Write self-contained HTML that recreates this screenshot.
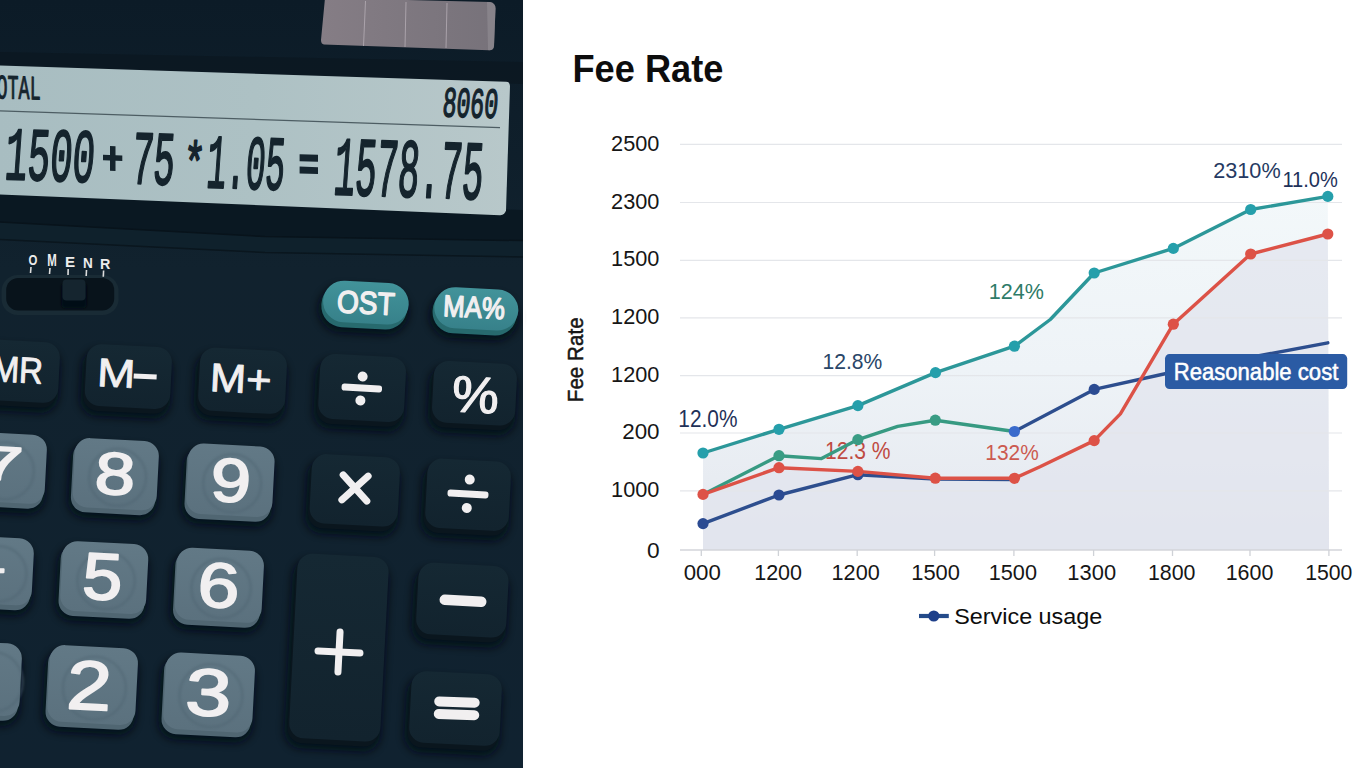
<!DOCTYPE html>
<html><head><meta charset="utf-8">
<style>
html,body{margin:0;padding:0;width:1365px;height:768px;overflow:hidden;background:#fff;}
svg{display:block;}
svg{font-family:"Liberation Sans",sans-serif;}
</style></head>
<body>
<svg width="1365" height="768" viewBox="0 0 1365 768">
<defs>
  <linearGradient id="areaG" x1="0" y1="190" x2="0" y2="550" gradientUnits="userSpaceOnUse">
    <stop offset="0" stop-color="#f3f8fa"/>
    <stop offset="0.5" stop-color="#eef3f7"/>
    <stop offset="0.8" stop-color="#e8ecf2"/>
    <stop offset="1" stop-color="#e2e5ed"/>
  </linearGradient>
</defs>

<g id="chart">
  <text transform="translate(572.47 81.82) scale(0.3621 0.3800)" x="0" y="0" font-size="100" font-weight="bold" style="font-family:'Liberation Sans'" fill="#0d0d0d">Fee Rate</text>
  <polygon fill="url(#areaG)" points="703,453 779,429.3 857.9,405.6 935.5,372.6 1014.4,346.2 1050.3,319.5 1094.2,273 1173.3,248.4 1250.7,209.5 1327.8,196.4 1329,550 703,550"/>
  <polygon fill="#e1e4ed" opacity="0.75" points="1014.4,478.3 1040,466.8 1094.2,440.6 1120.4,413.9 1173.3,324.2 1250.7,254 1327.8,234 1329,550 703,550 703,494.4 779,467.7 857.9,471.4 935.3,478.2"/>
  <g stroke="#e4e6ea" stroke-width="1.2"><line x1="680" y1="144.4" x2="1342" y2="144.4"/><line x1="680" y1="202.5" x2="1342" y2="202.5"/><line x1="680" y1="260.4" x2="1342" y2="260.4"/><line x1="680" y1="317.9" x2="1342" y2="317.9"/><line x1="680" y1="375.6" x2="1342" y2="375.6"/><line x1="680" y1="433" x2="1342" y2="433"/><line x1="680" y1="490.8" x2="1342" y2="490.8"/></g>
  <line x1="680" y1="550" x2="1342" y2="550" stroke="#d3d5da" stroke-width="1.5"/>
  <g stroke="#cfd2d7" stroke-width="1.3"><line x1="701.3" y1="550" x2="701.3" y2="556"/><line x1="778.4" y1="550" x2="778.4" y2="556"/><line x1="857.2" y1="550" x2="857.2" y2="556"/><line x1="934.6" y1="550" x2="934.6" y2="556"/><line x1="1013.9" y1="550" x2="1013.9" y2="556"/><line x1="1093.6" y1="550" x2="1093.6" y2="556"/><line x1="1172.5" y1="550" x2="1172.5" y2="556"/><line x1="1250" y1="550" x2="1250" y2="556"/><line x1="1328.9" y1="550" x2="1328.9" y2="556"/></g>
  <text transform="translate(611.11 151.47) scale(0.2173 0.2282)" x="0" y="0" font-size="100" font-weight="normal" style="font-family:'Liberation Sans'" fill="#161616">2500</text><text transform="translate(611.11 208.87) scale(0.2173 0.2282)" x="0" y="0" font-size="100" font-weight="normal" style="font-family:'Liberation Sans'" fill="#161616">2300</text><text transform="translate(611.06 266.27) scale(0.2175 0.2282)" x="0" y="0" font-size="100" font-weight="normal" style="font-family:'Liberation Sans'" fill="#161616">1500</text><text transform="translate(611.06 324.17) scale(0.2175 0.2282)" x="0" y="0" font-size="100" font-weight="normal" style="font-family:'Liberation Sans'" fill="#161616">1200</text><text transform="translate(611.06 381.57) scale(0.2175 0.2282)" x="0" y="0" font-size="100" font-weight="normal" style="font-family:'Liberation Sans'" fill="#161616">1200</text><text transform="translate(622.18 439.27) scale(0.2241 0.2282)" x="0" y="0" font-size="100" font-weight="normal" style="font-family:'Liberation Sans'" fill="#161616">200</text><text transform="translate(611.06 496.97) scale(0.2175 0.2282)" x="0" y="0" font-size="100" font-weight="normal" style="font-family:'Liberation Sans'" fill="#161616">1000</text><text transform="translate(646.89 557.97) scale(0.2271 0.2282)" x="0" y="0" font-size="100" font-weight="normal" style="font-family:'Liberation Sans'" fill="#161616">0</text>
  <g transform="rotate(-90 576 359.4)"><text transform="translate(533.20 366.73) scale(0.2063 0.2157)" x="0" y="0" font-size="100" font-weight="normal" style="font-family:'Liberation Sans'" fill="#161616" stroke="#161616" stroke-width="2.37" stroke-linejoin="round">Fee Rate</text></g>
  <text transform="translate(683.71 580.38) scale(0.2226 0.2155)" x="0" y="0" font-size="100" font-weight="normal" style="font-family:'Liberation Sans'" fill="#161616">000</text><text transform="translate(754.18 580.38) scale(0.2152 0.2155)" x="0" y="0" font-size="100" font-weight="normal" style="font-family:'Liberation Sans'" fill="#161616">1200</text><text transform="translate(831.57 580.38) scale(0.2166 0.2155)" x="0" y="0" font-size="100" font-weight="normal" style="font-family:'Liberation Sans'" fill="#161616">1200</text><text transform="translate(911.25 580.38) scale(0.2190 0.2155)" x="0" y="0" font-size="100" font-weight="normal" style="font-family:'Liberation Sans'" fill="#161616">1500</text><text transform="translate(988.77 580.38) scale(0.2166 0.2155)" x="0" y="0" font-size="100" font-weight="normal" style="font-family:'Liberation Sans'" fill="#161616">1500</text><text transform="translate(1067.35 580.38) scale(0.2190 0.2155)" x="0" y="0" font-size="100" font-weight="normal" style="font-family:'Liberation Sans'" fill="#161616">1300</text><text transform="translate(1147.89 580.38) scale(0.2137 0.2155)" x="0" y="0" font-size="100" font-weight="normal" style="font-family:'Liberation Sans'" fill="#161616">1800</text><text transform="translate(1225.69 580.38) scale(0.2142 0.2155)" x="0" y="0" font-size="100" font-weight="normal" style="font-family:'Liberation Sans'" fill="#161616">1600</text><text transform="translate(1305.20 580.38) scale(0.2123 0.2155)" x="0" y="0" font-size="100" font-weight="normal" style="font-family:'Liberation Sans'" fill="#161616">1500</text>
  <text transform="translate(825.01 459.06) scale(0.2107 0.2366)" x="0" y="0" font-size="100" font-weight="normal" style="font-family:'Liberation Sans'" fill="#bf4a42">12.3 %</text>
  <g fill="none" stroke-width="3.4" stroke-linejoin="round" stroke-linecap="round">
    <polyline stroke="#2d4e8e" points="703,523.6 779,495 857.9,474.7 935.3,479 1014.4,479.5"/>
    <polyline stroke="#2d4e8e" points="1014.4,431.5 1094.2,389.4 1173,372 1327.8,342.8"/>
    <polyline stroke="#379a82" points="703,494.4 779,455.7 821.5,458.6 857.9,439.6 897.7,426.4 935.3,420.2 1014.4,431.5"/>
    <polyline stroke="#dc5247" points="703,494.4 779,467.7 857.9,471.4 935.3,478.2 1014.4,478.3 1040,466.8 1094.2,440.6 1120.4,413.9 1173.3,324.2 1250.7,254 1327.8,234"/>
    <polyline stroke="#2c9799" points="703,453 779,429.3 857.9,405.6 935.5,372.6 1014.4,346.2 1050.3,319.5 1094.2,273 1173.3,248.4 1250.7,209.5 1327.8,196.4"/>
  </g>
  <circle cx="703" cy="523.6" r="5.6" fill="#2b4b92"/><circle cx="779" cy="495" r="5.6" fill="#2b4b92"/><circle cx="857.9" cy="474.7" r="5.6" fill="#2b4b92"/><circle cx="1094.2" cy="389.4" r="5.6" fill="#2b4b92"/>
  <circle cx="1014.4" cy="431.5" r="5.6" fill="#3a6bcc"/>
  <circle cx="779" cy="455.7" r="5.6" fill="#399c84"/><circle cx="857.9" cy="439.6" r="5.6" fill="#399c84"/><circle cx="935.3" cy="420.2" r="5.6" fill="#399c84"/>
  <circle cx="703" cy="494.4" r="5.6" fill="#dd5247"/><circle cx="779" cy="467.7" r="5.6" fill="#dd5247"/><circle cx="857.9" cy="471.4" r="5.6" fill="#dd5247"/><circle cx="935.3" cy="478.2" r="5.6" fill="#dd5247"/><circle cx="1014.4" cy="478.3" r="5.6" fill="#dd5247"/><circle cx="1094.2" cy="440.6" r="5.6" fill="#dd5247"/><circle cx="1173.3" cy="324.2" r="5.6" fill="#dd5247"/><circle cx="1250.7" cy="254" r="5.6" fill="#dd5247"/><circle cx="1327.8" cy="234" r="5.6" fill="#dd5247"/>
  <circle cx="703" cy="453" r="5.6" fill="#259fab"/><circle cx="779" cy="429.3" r="5.6" fill="#259fab"/><circle cx="857.9" cy="405.6" r="5.6" fill="#259fab"/><circle cx="935.5" cy="372.6" r="5.6" fill="#259fab"/><circle cx="1014.4" cy="346.2" r="5.6" fill="#259fab"/><circle cx="1094.2" cy="273" r="5.6" fill="#259fab"/><circle cx="1173.3" cy="248.4" r="5.6" fill="#259fab"/><circle cx="1250.7" cy="209.5" r="5.6" fill="#259fab"/><circle cx="1327.8" cy="196.4" r="5.6" fill="#259fab"/>
  <text transform="translate(678.33 427.06) scale(0.2088 0.2352)" x="0" y="0" font-size="100" font-weight="normal" style="font-family:'Liberation Sans'" fill="#1f3158">12.0%</text>
  <text transform="translate(822.51 369.48) scale(0.2110 0.2155)" x="0" y="0" font-size="100" font-weight="normal" style="font-family:'Liberation Sans'" fill="#2a4668">12.8%</text>
  <text transform="translate(988.68 298.78) scale(0.2156 0.2169)" x="0" y="0" font-size="100" font-weight="normal" style="font-family:'Liberation Sans'" fill="#2e7b68">124%</text>
  <text transform="translate(985.33 460.38) scale(0.2090 0.2197)" x="0" y="0" font-size="100" font-weight="normal" style="font-family:'Liberation Sans'" fill="#cc5a50">132%</text>
  <text transform="translate(1213.22 178.38) scale(0.2166 0.2239)" x="0" y="0" font-size="100" font-weight="normal" style="font-family:'Liberation Sans'" fill="#263a62">2310%</text>
  <text transform="translate(1282.39 187.18) scale(0.2008 0.2169)" x="0" y="0" font-size="100" font-weight="normal" style="font-family:'Liberation Sans'" fill="#1e3159">11.0%</text>
  <rect x="1165" y="354.1" width="182.2" height="34.9" rx="4.5" fill="#2b5ba4"/>
  <text transform="translate(1173.68 379.72) scale(0.2211 0.2342)" x="0" y="0" font-size="100" font-weight="normal" style="font-family:'Liberation Sans'" fill="#ffffff" stroke="#ffffff" stroke-width="2.20" stroke-linejoin="round">Reasonable cost</text>
  <line x1="919" y1="616" x2="948.8" y2="616" stroke="#244b8a" stroke-width="4.2"/>
  <circle cx="933.8" cy="616" r="5.6" fill="#1d3f8a"/>
  <text transform="translate(954.23 623.73) scale(0.2337 0.2226)" x="0" y="0" font-size="100" font-weight="normal" style="font-family:'Liberation Sans'" fill="#0d0d0d">Service usage</text>
</g>


<!-- ============ CALCULATOR ============ -->
<g id="calc">
  <defs>
    <linearGradient id="bodyG" x1="0" y1="0" x2="0" y2="768" gradientUnits="userSpaceOnUse">
      <stop offset="0" stop-color="#0c1b27"/>
      <stop offset="0.35" stop-color="#11222e"/>
      <stop offset="1" stop-color="#102230"/>
    </linearGradient>
    <linearGradient id="solarG" x1="322" y1="0" x2="496" y2="0" gradientUnits="userSpaceOnUse">
      <stop offset="0" stop-color="#857d85"/>
      <stop offset="1" stop-color="#77727a"/>
    </linearGradient>
    <linearGradient id="lcdG" x1="0" y1="0" x2="510" y2="0" gradientUnits="userSpaceOnUse">
      <stop offset="0" stop-color="#a8bdc1"/>
      <stop offset="0.5" stop-color="#adc1c4"/>
      <stop offset="1" stop-color="#b8c8ca"/>
    </linearGradient>
    <linearGradient id="gDark" x1="0" y1="0" x2="0" y2="1"><stop offset="0" stop-color="#152833"/><stop offset="1" stop-color="#12232e"/></linearGradient>
    <linearGradient id="gGrey" x1="0" y1="0" x2="0" y2="1"><stop offset="0" stop-color="#627986"/><stop offset="1" stop-color="#5b717e"/></linearGradient>
    <linearGradient id="gTeal" x1="0" y1="0" x2="0" y2="1"><stop offset="0" stop-color="#42939a"/><stop offset="1" stop-color="#37818a"/></linearGradient>
    <filter id="blur1" x="-20%" y="-20%" width="140%" height="140%"><feGaussianBlur stdDeviation="1.2"/></filter>
    <filter id="blur3" x="-30%" y="-30%" width="160%" height="160%"><feGaussianBlur stdDeviation="4"/></filter>
  </defs>
  <rect x="0" y="0" width="523" height="768" fill="url(#bodyG)"/>
  <!-- solar panel -->
  <path d="M325,-2 L490,2 Q495.5,3 495.5,8.5 L494,46 Q493.5,50.5 489,50.3 L324,44.5 Q321,44 321,40 Z" fill="url(#solarG)"/>
  <path d="M487,2 L490,2 Q495.5,3 495.5,8.5 L494,46 Q493.5,50.5 489,50.3 L488,50 Z" fill="#8e8a92" opacity="0.7"/>
  <g stroke="#b5adb5" stroke-width="1" opacity="0.8">
    <line x1="365.5" y1="1" x2="363.5" y2="46"/>
    <line x1="406" y1="2" x2="405" y2="47"/>
    <line x1="447" y1="3" x2="446" y2="48"/>
  </g>
  <polygon points="0,52 523,62 523,84 0,66" fill="#0b1720" opacity="0.7"/>
  <!-- bands below display -->
  <polygon points="0,190 523,210 523,240.6 265,236.5 0,222" fill="#0a1822"/>
  <polygon points="0,222 265,236.5 523,240.6 523,257 265,252.5 0,239.5" fill="#0f212c"/>
  <polyline points="0,222 265,236.5 523,240.6" fill="none" stroke="#08131b" stroke-width="1.5"/>
  <polyline points="0,239.5 265,252.5 523,257" fill="none" stroke="#0a161e" stroke-width="1.5"/>
  <!-- LCD display (skewed) -->
  <g transform="skewY(1.85)">
    <path d="M-5,65.5 H506 Q510,65.5 510,69.5 L506,194 Q505,199 500,199 L-5,194.5 Z" fill="url(#lcdG)"/>
    <line x1="0" y1="110.8" x2="500" y2="111.4" stroke="#4d5d63" stroke-width="1.3"/>
    <text transform="translate(-3.52 98.26) scale(0.1843 0.3412)" x="0" y="0" font-size="100" font-weight="normal" style="font-family:'Liberation Mono'" fill="#15242d" stroke="#15242d" stroke-width="3.04" stroke-linejoin="round">OTAL</text>
<text transform="translate(0 87.9) skewX(-5) translate(0 -87.9) translate(442.92 101.97) scale(0.2307 0.4265)" x="0" y="0" font-size="100" font-weight="normal" style="font-family:'Liberation Mono'" fill="#15242d" stroke="#15242d" stroke-width="3.65" stroke-linejoin="round">8060</text>
<text transform="translate(0 154.0) skewX(-4) translate(0 -154.0) translate(5.59 178.94) scale(0.3736 0.7559)" x="0" y="0" font-size="100" font-weight="normal" style="font-family:'Liberation Mono'" fill="#15242d" stroke="#15242d" stroke-width="2.83" stroke-linejoin="round">1500</text>
<text transform="translate(0 154.4) skewX(-4) translate(0 -154.4) translate(132.56 179.14) scale(0.3547 0.7612)" x="0" y="0" font-size="100" font-weight="normal" style="font-family:'Liberation Mono'" fill="#15242d" stroke="#15242d" stroke-width="2.87" stroke-linejoin="round">75</text>
<text transform="translate(0 155.2) skewX(-4) translate(0 -155.2) translate(207.32 180.53) scale(0.3251 0.7676)" x="0" y="0" font-size="100" font-weight="normal" style="font-family:'Liberation Mono'" fill="#15242d" stroke="#15242d" stroke-width="2.93" stroke-linejoin="round">1.05</text>
<text transform="translate(0 155.9) skewX(-4) translate(0 -155.9) translate(334.31 183.56) scale(0.3558 0.8368)" x="0" y="0" font-size="100" font-weight="normal" style="font-family:'Liberation Mono'" fill="#15242d" stroke="#15242d" stroke-width="2.68" stroke-linejoin="round">1578.75</text>
<text transform="translate(0 144.4) skewX(-4) translate(0 -144.4) translate(184.17 175.44) scale(0.3611 0.5686)" x="0" y="0" font-size="100" font-weight="normal" style="font-family:'Liberation Mono'" fill="#15242d" stroke="#15242d" stroke-width="3.44" stroke-linejoin="round">*</text>
    <g fill="#15242d">
      <rect x="103" y="151.5" width="19.3" height="5.5"/>
      <rect x="110" y="142.4" width="5.5" height="24.8"/>
      <rect x="299.6" y="144.6" width="18.4" height="6.9"/>
      <rect x="299.6" y="156.9" width="18.4" height="6.9"/>
    </g>
  </g>
  
<g>
  <rect x="1.6" y="275" width="117" height="40" rx="16" fill="#192b35"/>
  <rect x="6.2" y="278" width="108" height="32.6" rx="12" fill="#08131b"/>
  <rect x="61.5" y="283" width="25" height="25" rx="4" fill="#050d13" filter="url(#blur1)"/>
  <rect x="62.5" y="279.4" width="23" height="21" rx="4" fill="#15252f"/>
  <text transform="translate(28.54 264.85) scale(0.1143 0.1549)" x="0" y="0" font-size="100" font-weight="bold" style="font-family:'Liberation Sans'" fill="#ececec">O</text>
<text transform="translate(47.20 266.00) scale(0.1143 0.1594)" x="0" y="0" font-size="100" font-weight="bold" style="font-family:'Liberation Sans'" fill="#ececec">M</text>
<text transform="translate(64.94 266.50) scale(0.1518 0.1522)" x="0" y="0" font-size="100" font-weight="bold" style="font-family:'Liberation Sans'" fill="#ececec">E</text>
<text transform="translate(83.05 267.50) scale(0.1356 0.1522)" x="0" y="0" font-size="100" font-weight="bold" style="font-family:'Liberation Sans'" fill="#ececec">N</text>
<text transform="translate(100.00 269.00) scale(0.1429 0.1522)" x="0" y="0" font-size="100" font-weight="bold" style="font-family:'Liberation Sans'" fill="#ececec">R</text><g stroke="#dcdcdc" stroke-width="1.6">
    <line x1="31" y1="267" x2="30.5" y2="273"/><line x1="50" y1="268" x2="49.5" y2="274"/><line x1="68.2" y1="269" x2="68" y2="275"/><line x1="86.5" y1="270" x2="86.2" y2="276"/><line x1="103.6" y1="270.5" x2="103.3" y2="276.8"/>
  </g>
</g>

  <g transform="rotate(3.0 10.0 371.8)">
<rect x="-43.1" y="346.4" width="102.1" height="64.7" rx="17" fill="#050c12" opacity="0.9" filter="url(#blur3)"/>
<rect x="-40.6" y="343.4" width="98.1" height="62.7" rx="15" fill="#0a161e"/>
<rect x="-39.1" y="340.4" width="98.1" height="60.7" rx="15" fill="url(#gDark)"/>
</g><g transform="rotate(3.0 128.3 377.5)">
<rect x="81.6" y="351.6" width="89.4" height="65.9" rx="17" fill="#050c12" opacity="0.9" filter="url(#blur3)"/>
<rect x="84.1" y="348.6" width="85.4" height="63.9" rx="15" fill="#0a161e"/>
<rect x="85.6" y="345.6" width="85.4" height="61.9" rx="15" fill="url(#gDark)"/>
</g><g transform="rotate(3.0 242.5 381.8)">
<rect x="195.0" y="355.2" width="91.0" height="67.2" rx="17" fill="#050c12" opacity="0.9" filter="url(#blur3)"/>
<rect x="197.5" y="352.2" width="87.0" height="65.2" rx="15" fill="#0a161e"/>
<rect x="199.0" y="349.2" width="87.0" height="63.2" rx="15" fill="url(#gDark)"/>
</g><g transform="rotate(3.0 362.0 388.9)">
<rect x="315.1" y="361.4" width="89.9" height="69.1" rx="17" fill="#050c12" opacity="0.9" filter="url(#blur3)"/>
<rect x="317.6" y="358.4" width="85.9" height="67.1" rx="15" fill="#0a161e"/>
<rect x="319.1" y="355.4" width="85.9" height="65.1" rx="15" fill="url(#gDark)"/>
</g><g transform="rotate(3.0 474.4 394.2)">
<rect x="428.8" y="368.3" width="87.2" height="65.8" rx="17" fill="#050c12" opacity="0.9" filter="url(#blur3)"/>
<rect x="431.3" y="365.3" width="83.2" height="63.8" rx="15" fill="#0a161e"/>
<rect x="432.8" y="362.3" width="83.2" height="61.8" rx="15" fill="url(#gDark)"/>
</g><g transform="rotate(3.0 354.7 491.4)">
<rect x="306.6" y="461.6" width="92.2" height="73.4" rx="17" fill="#050c12" opacity="0.9" filter="url(#blur3)"/>
<rect x="309.1" y="458.6" width="88.2" height="71.4" rx="15" fill="#0a161e"/>
<rect x="310.6" y="455.6" width="88.2" height="69.4" rx="15" fill="url(#gDark)"/>
</g><g transform="rotate(3.0 468.0 495.8)">
<rect x="422.2" y="466.0" width="87.6" height="73.5" rx="17" fill="#050c12" opacity="0.9" filter="url(#blur3)"/>
<rect x="424.7" y="463.0" width="83.6" height="71.5" rx="15" fill="#0a161e"/>
<rect x="426.2" y="460.0" width="83.6" height="69.5" rx="15" fill="url(#gDark)"/>
</g><g transform="rotate(3.0 338.9 648.7)">
<rect x="289.2" y="561.2" width="95.3" height="188.9" rx="17" fill="#050c12" opacity="0.9" filter="url(#blur3)"/>
<rect x="291.7" y="558.2" width="91.3" height="186.9" rx="15" fill="#0a161e"/>
<rect x="293.2" y="555.2" width="91.3" height="184.9" rx="15" fill="url(#gDark)"/>
</g><g transform="rotate(3.0 462.4 601.2)">
<rect x="413.2" y="570.4" width="94.2" height="75.6" rx="17" fill="#050c12" opacity="0.9" filter="url(#blur3)"/>
<rect x="415.7" y="567.4" width="90.2" height="73.6" rx="15" fill="#0a161e"/>
<rect x="417.2" y="564.4" width="90.2" height="71.6" rx="15" fill="url(#gDark)"/>
</g><g transform="rotate(3.0 455.5 709.5)">
<rect x="406.2" y="678.7" width="94.5" height="75.6" rx="17" fill="#050c12" opacity="0.9" filter="url(#blur3)"/>
<rect x="408.7" y="675.7" width="90.5" height="73.6" rx="15" fill="#0a161e"/>
<rect x="410.2" y="672.7" width="90.5" height="71.6" rx="15" fill="url(#gDark)"/>
</g><g transform="rotate(3.0 3.5 468.9)">
<rect x="-42.8" y="439.2" width="88.6" height="73.2" rx="17" fill="#050c12" opacity="0.9" filter="url(#blur3)"/>
<rect x="-40.3" y="436.2" width="84.6" height="71.2" rx="15" fill="#506672"/>
<rect x="-38.8" y="433.2" width="84.6" height="69.2" rx="15" fill="url(#gGrey)"/>
<circle cx="5.5" cy="470.9" r="28.5" fill="none" stroke="#4f6572" stroke-width="2.2" opacity="0.55" filter="url(#blur1)"/>
</g><g transform="rotate(3.0 115.7 475.2)">
<rect x="69.6" y="445.5" width="88.2" height="73.4" rx="17" fill="#050c12" opacity="0.9" filter="url(#blur3)"/>
<rect x="72.1" y="442.5" width="84.2" height="71.4" rx="15" fill="#506672"/>
<rect x="73.6" y="439.5" width="84.2" height="69.4" rx="15" fill="url(#gGrey)"/>
<circle cx="117.7" cy="477.2" r="28.5" fill="none" stroke="#4f6572" stroke-width="2.2" opacity="0.55" filter="url(#blur1)"/>
</g><g transform="rotate(3.0 230.3 481.2)">
<rect x="183.2" y="451.0" width="90.3" height="74.5" rx="17" fill="#050c12" opacity="0.9" filter="url(#blur3)"/>
<rect x="185.7" y="448.0" width="86.3" height="72.5" rx="15" fill="#506672"/>
<rect x="187.2" y="445.0" width="86.3" height="70.5" rx="15" fill="url(#gGrey)"/>
<circle cx="232.3" cy="483.2" r="29.0" fill="none" stroke="#4f6572" stroke-width="2.2" opacity="0.55" filter="url(#blur1)"/>
</g><g transform="rotate(3.0 -3.0 571.8)">
<rect x="-42.9" y="543.2" width="75.7" height="71.1" rx="17" fill="#050c12" opacity="0.9" filter="url(#blur3)"/>
<rect x="-40.4" y="540.2" width="71.7" height="69.1" rx="15" fill="#506672"/>
<rect x="-38.9" y="537.2" width="71.7" height="67.1" rx="15" fill="url(#gGrey)"/>
<circle cx="-1.0" cy="573.8" r="27.6" fill="none" stroke="#4f6572" stroke-width="2.2" opacity="0.55" filter="url(#blur1)"/>
</g><g transform="rotate(3.0 104.2 578.5)">
<rect x="57.2" y="548.6" width="90.0" height="73.9" rx="17" fill="#050c12" opacity="0.9" filter="url(#blur3)"/>
<rect x="59.7" y="545.6" width="86.0" height="71.9" rx="15" fill="#506672"/>
<rect x="61.2" y="542.6" width="86.0" height="69.9" rx="15" fill="url(#gGrey)"/>
<circle cx="106.2" cy="580.5" r="28.7" fill="none" stroke="#4f6572" stroke-width="2.2" opacity="0.55" filter="url(#blur1)"/>
</g><g transform="rotate(3.0 219.2 586.3)">
<rect x="171.8" y="555.2" width="91.0" height="76.2" rx="17" fill="#050c12" opacity="0.9" filter="url(#blur3)"/>
<rect x="174.3" y="552.2" width="87.0" height="74.2" rx="15" fill="#506672"/>
<rect x="175.8" y="549.2" width="87.0" height="72.2" rx="15" fill="url(#gGrey)"/>
<circle cx="221.2" cy="588.3" r="29.7" fill="none" stroke="#4f6572" stroke-width="2.2" opacity="0.55" filter="url(#blur1)"/>
</g><g transform="rotate(3.0 -9.0 679.8)">
<rect x="-42.7" y="648.5" width="63.4" height="76.7" rx="17" fill="#050c12" opacity="0.9" filter="url(#blur3)"/>
<rect x="-40.2" y="645.5" width="59.4" height="74.7" rx="15" fill="#506672"/>
<rect x="-38.7" y="642.5" width="59.4" height="72.7" rx="15" fill="url(#gGrey)"/>
<circle cx="-7.0" cy="681.8" r="29.9" fill="none" stroke="#4f6572" stroke-width="2.2" opacity="0.55" filter="url(#blur1)"/>
</g><g transform="rotate(3.0 92.5 686.0)">
<rect x="44.4" y="652.6" width="92.3" height="80.8" rx="17" fill="#050c12" opacity="0.9" filter="url(#blur3)"/>
<rect x="46.9" y="649.6" width="88.3" height="78.8" rx="15" fill="#506672"/>
<rect x="48.4" y="646.6" width="88.3" height="76.8" rx="15" fill="url(#gGrey)"/>
<circle cx="94.5" cy="688.0" r="31.5" fill="none" stroke="#4f6572" stroke-width="2.2" opacity="0.55" filter="url(#blur1)"/>
</g><g transform="rotate(3.0 209.0 693.5)">
<rect x="160.4" y="660.1" width="93.3" height="80.8" rx="17" fill="#050c12" opacity="0.9" filter="url(#blur3)"/>
<rect x="162.9" y="657.1" width="89.3" height="78.8" rx="15" fill="#506672"/>
<rect x="164.4" y="654.1" width="89.3" height="76.8" rx="15" fill="url(#gGrey)"/>
<circle cx="211.0" cy="695.5" r="31.5" fill="none" stroke="#4f6572" stroke-width="2.2" opacity="0.55" filter="url(#blur1)"/>
</g><g transform="rotate(3.0 365.9 303.6)">
<rect x="319.0" y="287.8" width="89.7" height="45.6" rx="23" fill="#050c12" opacity="0.9" filter="url(#blur3)"/>
<rect x="321.5" y="284.8" width="85.7" height="43.6" rx="21" fill="#276a6e"/>
<rect x="323.0" y="281.8" width="85.7" height="41.6" rx="21" fill="url(#gTeal)"/>
</g><g transform="rotate(3.0 476.2 309.9)">
<rect x="430.2" y="294.3" width="88.1" height="45.1" rx="23" fill="#050c12" opacity="0.9" filter="url(#blur3)"/>
<rect x="432.7" y="291.3" width="84.1" height="43.1" rx="21" fill="#276a6e"/>
<rect x="434.2" y="288.3" width="84.1" height="41.1" rx="21" fill="url(#gTeal)"/>
</g>
  <text transform="rotate(3 17.9 369.8) translate(-8.19 382.35) scale(0.3296 0.3652)" x="0" y="0" font-size="100" font-weight="normal" style="font-family:'Liberation Sans'" fill="#f1eff0" stroke="#f1eff0" stroke-width="2.59" stroke-linejoin="round">MR</text>
<text transform="rotate(3 116.1 373.2) translate(97.08 387.05) scale(0.4582 0.4000)" x="0" y="0" font-size="100" font-weight="normal" style="font-family:'Liberation Sans'" fill="#f1eff0" stroke="#f1eff0" stroke-width="2.10" stroke-linejoin="round">M</text>
<rect x="133.7" y="374" width="23" height="5" fill="#f1eff0" transform="rotate(3 145 376)"/>
<text transform="rotate(3 241.5 378.8) translate(209.97 392.55) scale(0.4349 0.4000)" x="0" y="0" font-size="100" font-weight="normal" style="font-family:'Liberation Sans'" fill="#f1eff0" stroke="#f1eff0" stroke-width="2.16" stroke-linejoin="round">M+</text>
<text transform="rotate(3 366.3 302.9) translate(337.04 313.73) scale(0.2813 0.3155)" x="0" y="0" font-size="100" font-weight="normal" style="font-family:'Liberation Sans'" fill="#f1eff0" stroke="#f1eff0" stroke-width="4.36" stroke-linejoin="round">OST</text>
<text transform="rotate(3 474.6 307.3) translate(443.29 317.65) scale(0.2577 0.3000)" x="0" y="0" font-size="100" font-weight="normal" style="font-family:'Liberation Sans'" fill="#f1eff0" stroke="#f1eff0" stroke-width="4.66" stroke-linejoin="round">MA%</text>
<text transform="rotate(3 475.2 394.8) translate(452.02 412.49) scale(0.5268 0.5127)" x="0" y="0" font-size="100" font-weight="normal" style="font-family:'Liberation Sans'" fill="#f1eff0" stroke="#f1eff0" stroke-width="2.31" stroke-linejoin="round">%</text>
<text transform="rotate(3 1.4 463.5) translate(-21.00 480.00) scale(0.8000 0.4783)" x="0" y="0" font-size="100" font-weight="normal" style="font-family:'Liberation Sans'" fill="#f1eff0" stroke="#f1eff0" stroke-width="3.13" stroke-linejoin="round">7</text>
<text transform="rotate(3 115.0 473.9) translate(95.11 494.40) scale(0.7234 0.5958)" x="0" y="0" font-size="100" font-weight="normal" style="font-family:'Liberation Sans'" fill="#f1eff0" stroke="#f1eff0" stroke-width="3.03" stroke-linejoin="round">8</text>
<text transform="rotate(3 231.1 480.6) translate(210.89 501.69) scale(0.7217 0.6127)" x="0" y="0" font-size="100" font-weight="normal" style="font-family:'Liberation Sans'" fill="#f1eff0" stroke="#f1eff0" stroke-width="3.00" stroke-linejoin="round">9</text>
<text transform="rotate(3 -13.5 562.5) translate(-32.37 579.00) scale(0.6863 0.4783)" x="0" y="0" font-size="100" font-weight="normal" style="font-family:'Liberation Sans'" fill="#f1eff0" stroke="#f1eff0" stroke-width="3.43" stroke-linejoin="round">4</text>
<text transform="rotate(3 102.8 576.9) translate(82.73 599.34) scale(0.7167 0.6600)" x="0" y="0" font-size="100" font-weight="normal" style="font-family:'Liberation Sans'" fill="#f1eff0" stroke="#f1eff0" stroke-width="2.91" stroke-linejoin="round">5</text>
<text transform="rotate(3 218.8 585.4) translate(197.75 607.17) scale(0.7500 0.6310)" x="0" y="0" font-size="100" font-weight="normal" style="font-family:'Liberation Sans'" fill="#f1eff0" stroke="#f1eff0" stroke-width="2.90" stroke-linejoin="round">6</text>
<text transform="rotate(3 89.5 685.2) translate(66.98 709.50) scale(0.8043 0.6929)" x="0" y="0" font-size="100" font-weight="normal" style="font-family:'Liberation Sans'" fill="#f1eff0" stroke="#f1eff0" stroke-width="2.67" stroke-linejoin="round">2</text>
<text transform="rotate(3 208.3 692.4) translate(185.71 715.34) scale(0.8234 0.6648)" x="0" y="0" font-size="100" font-weight="normal" style="font-family:'Liberation Sans'" fill="#f1eff0" stroke="#f1eff0" stroke-width="2.69" stroke-linejoin="round">3</text>
<g fill="#f1eff0">
  <g transform="rotate(3 362 389)">
  <rect x="341.5" y="384.5" width="40.5" height="7" rx="3"/>
  <circle cx="362" cy="376.5" r="5"/><circle cx="361" cy="400.5" r="5"/>
  </g>
  <g transform="rotate(3 468 494)">
  <rect x="447.5" y="490.5" width="41" height="7" rx="3"/>
  <circle cx="469" cy="479.5" r="5"/><circle cx="467.5" cy="508" r="5"/>
  </g>
  <rect x="439.5" y="595.5" width="47" height="10.5" rx="5.2" transform="rotate(3 462 601)"/>
  <rect x="434" y="697" width="45.5" height="10" rx="5" transform="rotate(2 456 708)"/>
  <rect x="434" y="709.5" width="45.5" height="10" rx="5" transform="rotate(2 456 708)"/>
</g>
<g stroke="#f1eff0" stroke-linecap="round" transform="rotate(3 339 652)">
  <line x1="339" y1="632" x2="339" y2="672" stroke-width="7"/>
  <line x1="318" y1="652" x2="360" y2="652" stroke-width="7"/>
</g>
<g stroke="#f1eff0" stroke-linecap="round" transform="rotate(3 355 488)">
  <line x1="342.5" y1="475.5" x2="367.5" y2="500.5" stroke-width="7"/>
  <line x1="367.5" y1="475.5" x2="342.5" y2="500.5" stroke-width="7"/>
</g>

  <rect x="523" y="0" width="2" height="768" fill="#fdfdfd"/>
</g>

</svg>
</body></html>
